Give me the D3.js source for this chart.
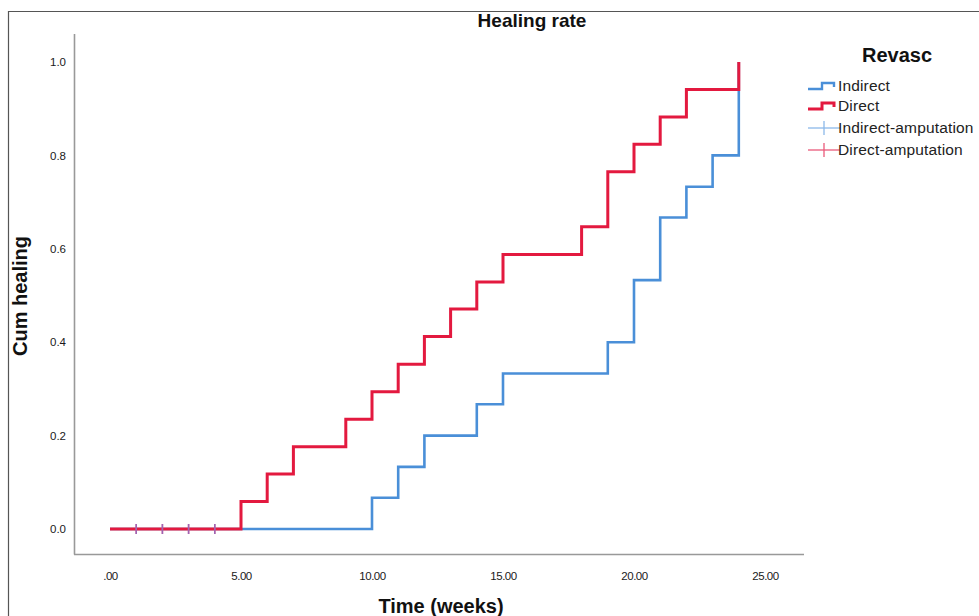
<!DOCTYPE html>
<html><head><meta charset="utf-8">
<script src="https://cdn.jsdelivr.net/npm/d3@7"></script>
<style>body{margin:0;background:#fff}svg{display:block}text{font-family:"Liberation Sans",Arial,sans-serif}</style>
</head><body><svg id="c" width="979" height="616"></svg>
<script>
// Data
const indirectTimes = [0, 10, 11, 12, 14, 15, 19, 20, 21, 22, 23, 24];
const indirectCum   = [0, 0.067, 0.133, 0.200, 0.267, 0.333, 0.400, 0.533, 0.667, 0.733, 0.800, 1.000];
const directTimes = [0, 5, 6, 7, 9, 10, 11, 12, 13, 14, 15, 18, 19, 20, 21, 22, 24];
const directCum   = [0, 0.059, 0.118, 0.176, 0.235, 0.294, 0.353, 0.412, 0.471, 0.529, 0.588, 0.647, 0.765, 0.824, 0.882, 0.941, 1.000];
const indirectCensored = [1, 2, 3, 4];
const directCensored = [1, 2, 3, 4];
const xTicks = [0, 5, 10, 15, 20, 25];
const xTickLabels = [".00", "5.00", "10.00", "15.00", "20.00", "25.00"];
const yTicks = [0, 0.2, 0.4, 0.6, 0.8, 1.0];
const yTickLabels = ["0.0", "0.2", "0.4", "0.6", "0.8", "1.0"];
const legendLabels = ["Indirect", "Direct", "Indirect-amputation", "Direct-amputation"];

const svg = d3.select("#c");
const blue = "#4a8fd8", red = "#e3193f", lblue = "#8cb9e9", pink = "#ea5a7a";

// outer frame
svg.append("path").attr("d", "M8.5,616 L8.5,11.5 L979,11.5").attr("fill","none").attr("stroke","#555").attr("stroke-width",1.2);

const x = d3.scaleLinear().domain([0, 25]).range([110, 765]);
const y = d3.scaleLinear().domain([0, 1]).range([529, 62]);

// axes lines
svg.append("line").attr("x1",74.5).attr("x2",74.5).attr("y1",34).attr("y2",554.5).attr("stroke","#999").attr("stroke-width",1.6);
svg.append("line").attr("x1",74).attr("x2",804).attr("y1",554.5).attr("y2",554.5).attr("stroke","#999").attr("stroke-width",1.6);

// tick labels via axes (no tick marks)
const xa = d3.axisBottom(x).tickValues(xTicks).tickSize(0).tickPadding(0).tickFormat((d,i)=>xTickLabels[i]);
const gx = svg.append("g").attr("transform","translate(0,576)").call(xa);
gx.select(".domain").remove();
gx.selectAll("text").attr("font-size",11.5).attr("fill","#1a1a1a").attr("dy","0.32em").attr("letter-spacing","-0.5px");
const ya = d3.axisLeft(y).tickValues(yTicks).tickSize(0).tickPadding(0).tickFormat((d,i)=>yTickLabels[i]);
const gy = svg.append("g").attr("transform","translate(58,0)").call(ya);
gy.select(".domain").remove();
gy.selectAll("text").attr("font-size",11.5).attr("fill","#1a1a1a").attr("text-anchor","middle");

// step lines
const line = d3.line().x(d=>x(d[0])).y(d=>y(d[1])).curve(d3.curveStepAfter);
const ind = indirectTimes.map((t,i)=>[t, indirectCum[i]]);
const dir = directTimes.map((t,i)=>[t, directCum[i]]);
svg.append("path").datum(ind).attr("d", line).attr("fill","none").attr("stroke",blue).attr("stroke-width",2.6);
svg.append("path").datum(dir).attr("d", line).attr("fill","none").attr("stroke",red).attr("stroke-width",3);

// censor marks
svg.selectAll(".cd").data(directCensored).enter().append("line")
  .attr("x1",d=>x(d)).attr("x2",d=>x(d)).attr("y1",y(0)-5).attr("y2",y(0)+5)
  .attr("stroke",pink).attr("stroke-width",1.6);
svg.selectAll(".ci").data(indirectCensored).enter().append("line")
  .attr("x1",d=>x(d)).attr("x2",d=>x(d)).attr("y1",y(0)-5).attr("y2",y(0)+5)
  .attr("stroke","#6a6ad8").attr("stroke-opacity",0.6).attr("stroke-width",1.6);

// titles
svg.append("text").attr("x",532).attr("y",27).attr("text-anchor","middle").attr("font-size",19).attr("font-weight","bold").attr("fill","#111").text("Healing rate");
svg.append("text").attr("x",441).attr("y",613).attr("text-anchor","middle").attr("font-size",20).attr("font-weight","bold").attr("fill","#111").text("Time (weeks)");
svg.append("text").attr("transform","translate(27,296) rotate(-90)").attr("text-anchor","middle").attr("font-size",20).attr("font-weight","bold").attr("fill","#111").text("Cum healing");

// legend
svg.append("text").attr("x",897).attr("y",62).attr("text-anchor","middle").attr("font-size",20).attr("font-weight","bold").attr("fill","#111").text("Revasc");
const ly = [86, 106, 128, 150];
const lg = svg.append("g");
legendLabels.forEach((lab,i)=>{
  const yy = ly[i];
  if (i < 2) {
    const c = i===0 ? blue : red;
    lg.append("path").attr("d",`M808,${yy+3} L822,${yy+3} L822,${yy-3} L834,${yy-3} L834,${yy+1}`)
      .attr("fill","none").attr("stroke",c).attr("stroke-width",i===0?2.4:3);
  } else {
    const c = i===2 ? lblue : pink;
    lg.append("line").attr("x1",808).attr("x2",840).attr("y1",yy).attr("y2",yy).attr("stroke",c).attr("stroke-width",1.3);
    lg.append("line").attr("x1",824).attr("x2",824).attr("y1",yy-7).attr("y2",yy+7).attr("stroke",c).attr("stroke-width",1.3);
  }
  lg.append("text").attr("x",838).attr("y",yy+5).attr("font-size",15.5).attr("letter-spacing","0.15px").attr("fill","#222").text(lab);
});
</script></body></html>
